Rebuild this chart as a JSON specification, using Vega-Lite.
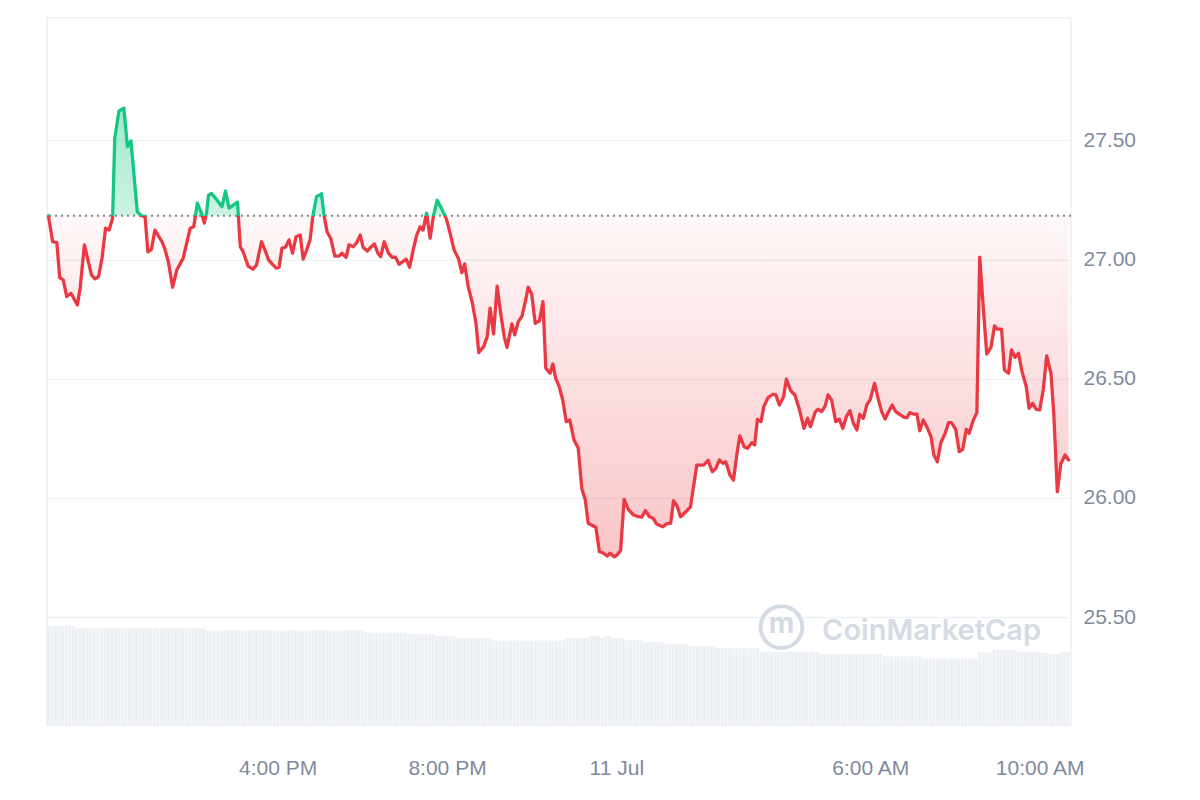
{
"$schema":"https://vega.github.io/schema/vega-lite/v6.json",
"width":1024,"height":707,
"autosize":{"type":"none"},
"padding":{"left":47,"top":18,"right":129,"bottom":75},
"background":"white",
"config":{"view":{"stroke":"#eceef1","strokeWidth":1.5},"font":"Liberation Sans"},
"datasets":{
"price":[
{"t":"2024-07-10T10:35","p":27.184},{"t":"2024-07-10T10:41","p":27.075},{"t":"2024-07-10T10:47","p":27.071},{"t":"2024-07-10T10:51","p":26.924},{"t":"2024-07-10T10:56","p":26.915},{"t":"2024-07-10T11:01","p":26.845},{"t":"2024-07-10T11:07","p":26.859},{"t":"2024-07-10T11:16","p":26.810},{"t":"2024-07-10T11:20","p":26.881},{"t":"2024-07-10T11:26","p":27.062},
{"t":"2024-07-10T11:36","p":26.936},{"t":"2024-07-10T11:41","p":26.919},{"t":"2024-07-10T11:46","p":26.928},{"t":"2024-07-10T11:51","p":27.006},{"t":"2024-07-10T11:56","p":27.132},{"t":"2024-07-10T12:01","p":27.124},{"t":"2024-07-10T12:06","p":27.174},{"t":"2024-07-10T12:09","p":27.509},{"t":"2024-07-10T12:15","p":27.624},{"t":"2024-07-10T12:22","p":27.635},
{"t":"2024-07-10T12:27","p":27.474},{"t":"2024-07-10T12:32","p":27.498},{"t":"2024-07-10T12:41","p":27.201},{"t":"2024-07-10T12:47","p":27.184},{"t":"2024-07-10T12:52","p":27.180},{"t":"2024-07-10T12:56","p":27.033},{"t":"2024-07-10T13:01","p":27.043},{"t":"2024-07-10T13:06","p":27.124},{"t":"2024-07-10T13:16","p":27.075},{"t":"2024-07-10T13:20","p":27.045},
{"t":"2024-07-10T13:25","p":26.991},{"t":"2024-07-10T13:31","p":26.884},{"t":"2024-07-10T13:37","p":26.957},{"t":"2024-07-10T13:46","p":27.006},{"t":"2024-07-10T13:56","p":27.132},{"t":"2024-07-10T14:01","p":27.138},{"t":"2024-07-10T14:06","p":27.237},{"t":"2024-07-10T14:12","p":27.195},{"t":"2024-07-10T14:16","p":27.153},{"t":"2024-07-10T14:19","p":27.195},
{"t":"2024-07-10T14:22","p":27.271},{"t":"2024-07-10T14:26","p":27.278},{"t":"2024-07-10T14:34","p":27.250},{"t":"2024-07-10T14:41","p":27.222},{"t":"2024-07-10T14:46","p":27.288},{"t":"2024-07-10T14:51","p":27.216},{"t":"2024-07-10T15:03","p":27.241},{"t":"2024-07-10T15:07","p":27.054},{"t":"2024-07-10T15:11","p":27.033},{"t":"2024-07-10T15:18","p":26.973},
{"t":"2024-07-10T15:25","p":26.960},{"t":"2024-07-10T15:30","p":26.978},{"t":"2024-07-10T15:37","p":27.075},{"t":"2024-07-10T15:42","p":27.040},{"t":"2024-07-10T15:47","p":26.999},{"t":"2024-07-10T15:52","p":26.982},{"t":"2024-07-10T15:58","p":26.964},{"t":"2024-07-10T16:02","p":26.968},{"t":"2024-07-10T16:06","p":27.048},{"t":"2024-07-10T16:11","p":27.052},
{"t":"2024-07-10T16:16","p":27.083},{"t":"2024-07-10T16:21","p":27.027},{"t":"2024-07-10T16:26","p":27.096},{"t":"2024-07-10T16:32","p":27.103},{"t":"2024-07-10T16:36","p":27.002},{"t":"2024-07-10T16:41","p":27.040},{"t":"2024-07-10T16:46","p":27.085},{"t":"2024-07-10T16:50","p":27.187},{"t":"2024-07-10T16:55","p":27.264},{"t":"2024-07-10T17:02","p":27.276},
{"t":"2024-07-10T17:06","p":27.180},{"t":"2024-07-10T17:10","p":27.117},{"t":"2024-07-10T17:15","p":27.090},{"t":"2024-07-10T17:21","p":27.015},{"t":"2024-07-10T17:27","p":27.015},{"t":"2024-07-10T17:31","p":27.027},{"t":"2024-07-10T17:37","p":27.010},{"t":"2024-07-10T17:41","p":27.062},{"t":"2024-07-10T17:47","p":27.054},{"t":"2024-07-10T17:52","p":27.071},
{"t":"2024-07-10T17:57","p":27.103},{"t":"2024-07-10T18:01","p":27.052},{"t":"2024-07-10T18:07","p":27.036},{"t":"2024-07-10T18:12","p":27.052},{"t":"2024-07-10T18:17","p":27.066},{"t":"2024-07-10T18:22","p":27.027},{"t":"2024-07-10T18:26","p":27.012},{"t":"2024-07-10T18:31","p":27.075},{"t":"2024-07-10T18:37","p":27.027},{"t":"2024-07-10T18:42","p":27.010},
{"t":"2024-07-10T18:47","p":27.010},{"t":"2024-07-10T18:52","p":26.980},{"t":"2024-07-10T18:57","p":26.991},{"t":"2024-07-10T19:02","p":27.002},{"t":"2024-07-10T19:07","p":26.968},{"t":"2024-07-10T19:12","p":27.040},{"t":"2024-07-10T19:17","p":27.103},{"t":"2024-07-10T19:22","p":27.138},{"t":"2024-07-10T19:26","p":27.124},{"t":"2024-07-10T19:31","p":27.195},
{"t":"2024-07-10T19:36","p":27.090},{"t":"2024-07-10T19:41","p":27.187},{"t":"2024-07-10T19:46","p":27.249},{"t":"2024-07-10T19:52","p":27.216},{"t":"2024-07-10T19:59","p":27.171},{"t":"2024-07-10T20:05","p":27.103},{"t":"2024-07-10T20:10","p":27.040},{"t":"2024-07-10T20:16","p":27.006},{"t":"2024-07-10T20:21","p":26.945},{"t":"2024-07-10T20:25","p":26.982},
{"t":"2024-07-10T20:30","p":26.887},{"t":"2024-07-10T20:36","p":26.817},{"t":"2024-07-10T20:41","p":26.733},{"t":"2024-07-10T20:45","p":26.610},{"t":"2024-07-10T20:52","p":26.635},{"t":"2024-07-10T20:57","p":26.677},{"t":"2024-07-10T21:01","p":26.796},{"t":"2024-07-10T21:06","p":26.688},{"t":"2024-07-10T21:11","p":26.889},{"t":"2024-07-10T21:16","p":26.775},
{"t":"2024-07-10T21:21","p":26.677},{"t":"2024-07-10T21:25","p":26.632},{"t":"2024-07-10T21:32","p":26.730},{"t":"2024-07-10T21:36","p":26.684},{"t":"2024-07-10T21:41","p":26.740},{"t":"2024-07-10T21:46","p":26.761},{"t":"2024-07-10T21:51","p":26.824},{"t":"2024-07-10T21:55","p":26.884},{"t":"2024-07-10T22:00","p":26.856},{"t":"2024-07-10T22:05","p":26.733},
{"t":"2024-07-10T22:11","p":26.743},{"t":"2024-07-10T22:16","p":26.824},{"t":"2024-07-10T22:20","p":26.544},{"t":"2024-07-10T22:26","p":26.523},{"t":"2024-07-10T22:30","p":26.562},{"t":"2024-07-10T22:34","p":26.502},{"t":"2024-07-10T22:39","p":26.467},{"t":"2024-07-10T22:44","p":26.411},{"t":"2024-07-10T22:49","p":26.320},{"t":"2024-07-10T22:54","p":26.327},
{"t":"2024-07-10T23:00","p":26.243},{"t":"2024-07-10T23:06","p":26.208},{"t":"2024-07-10T23:11","p":26.040},{"t":"2024-07-10T23:16","p":25.991},{"t":"2024-07-10T23:20","p":25.894},{"t":"2024-07-10T23:31","p":25.877},{"t":"2024-07-10T23:36","p":25.774},{"t":"2024-07-10T23:41","p":25.770},{"t":"2024-07-10T23:47","p":25.756},{"t":"2024-07-10T23:51","p":25.768},
{"t":"2024-07-10T23:57","p":25.753},{"t":"2024-07-11T00:01","p":25.761},{"t":"2024-07-11T00:06","p":25.779},{"t":"2024-07-11T00:11","p":25.994},{"t":"2024-07-11T00:17","p":25.952},{"t":"2024-07-11T00:24","p":25.929},{"t":"2024-07-11T00:31","p":25.921},{"t":"2024-07-11T00:36","p":25.919},{"t":"2024-07-11T00:41","p":25.947},{"t":"2024-07-11T00:47","p":25.921},
{"t":"2024-07-11T00:52","p":25.915},{"t":"2024-07-11T00:57","p":25.891},{"t":"2024-07-11T01:06","p":25.879},{"t":"2024-07-11T01:11","p":25.891},{"t":"2024-07-11T01:17","p":25.894},{"t":"2024-07-11T01:21","p":25.988},{"t":"2024-07-11T01:26","p":25.966},{"t":"2024-07-11T01:31","p":25.921},{"t":"2024-07-11T01:38","p":25.941},{"t":"2024-07-11T01:45","p":25.962},
{"t":"2024-07-11T01:54","p":26.138},{"t":"2024-07-11T02:04","p":26.138},{"t":"2024-07-11T02:10","p":26.158},{"t":"2024-07-11T02:16","p":26.110},{"t":"2024-07-11T02:21","p":26.124},{"t":"2024-07-11T02:26","p":26.159},{"t":"2024-07-11T02:31","p":26.145},{"t":"2024-07-11T02:35","p":26.152},{"t":"2024-07-11T02:41","p":26.096},{"t":"2024-07-11T02:46","p":26.075},
{"t":"2024-07-11T02:51","p":26.187},{"t":"2024-07-11T02:55","p":26.260},{"t":"2024-07-11T03:01","p":26.215},{"t":"2024-07-11T03:06","p":26.208},{"t":"2024-07-11T03:12","p":26.232},{"t":"2024-07-11T03:16","p":26.222},{"t":"2024-07-11T03:20","p":26.330},{"t":"2024-07-11T03:25","p":26.320},{"t":"2024-07-11T03:29","p":26.383},{"t":"2024-07-11T03:35","p":26.421},
{"t":"2024-07-11T03:42","p":26.435},{"t":"2024-07-11T03:46","p":26.432},{"t":"2024-07-11T03:51","p":26.390},{"t":"2024-07-11T03:57","p":26.425},{"t":"2024-07-11T04:01","p":26.498},{"t":"2024-07-11T04:07","p":26.450},{"t":"2024-07-11T04:13","p":26.432},{"t":"2024-07-11T04:19","p":26.376},{"t":"2024-07-11T04:26","p":26.292},{"t":"2024-07-11T04:31","p":26.334},
{"t":"2024-07-11T04:35","p":26.299},{"t":"2024-07-11T04:42","p":26.362},{"t":"2024-07-11T04:46","p":26.372},{"t":"2024-07-11T04:51","p":26.362},{"t":"2024-07-11T04:56","p":26.386},{"t":"2024-07-11T05:00","p":26.432},{"t":"2024-07-11T05:05","p":26.411},{"t":"2024-07-11T05:11","p":26.320},{"t":"2024-07-11T05:16","p":26.330},{"t":"2024-07-11T05:21","p":26.292},
{"t":"2024-07-11T05:26","p":26.341},{"t":"2024-07-11T05:31","p":26.366},{"t":"2024-07-11T05:36","p":26.313},{"t":"2024-07-11T05:41","p":26.285},{"t":"2024-07-11T05:45","p":26.351},{"t":"2024-07-11T05:50","p":26.334},{"t":"2024-07-11T05:55","p":26.390},{"t":"2024-07-11T06:00","p":26.414},{"t":"2024-07-11T06:06","p":26.481},{"t":"2024-07-11T06:11","p":26.418},
{"t":"2024-07-11T06:16","p":26.362},{"t":"2024-07-11T06:21","p":26.331},{"t":"2024-07-11T06:25","p":26.357},{"t":"2024-07-11T06:31","p":26.390},{"t":"2024-07-11T06:36","p":26.362},{"t":"2024-07-11T06:42","p":26.350},{"t":"2024-07-11T06:48","p":26.338},{"t":"2024-07-11T06:52","p":26.337},{"t":"2024-07-11T06:56","p":26.358},{"t":"2024-07-11T07:01","p":26.352},
{"t":"2024-07-11T07:06","p":26.352},{"t":"2024-07-11T07:10","p":26.282},{"t":"2024-07-11T07:15","p":26.327},{"t":"2024-07-11T07:21","p":26.292},{"t":"2024-07-11T07:26","p":26.257},{"t":"2024-07-11T07:30","p":26.180},{"t":"2024-07-11T07:35","p":26.152},{"t":"2024-07-11T07:40","p":26.232},{"t":"2024-07-11T07:46","p":26.271},{"t":"2024-07-11T07:51","p":26.316},
{"t":"2024-07-11T07:55","p":26.316},{"t":"2024-07-11T08:01","p":26.288},{"t":"2024-07-11T08:06","p":26.194},{"t":"2024-07-11T08:11","p":26.204},{"t":"2024-07-11T08:16","p":26.288},{"t":"2024-07-11T08:20","p":26.271},{"t":"2024-07-11T08:26","p":26.327},{"t":"2024-07-11T08:31","p":26.358},{"t":"2024-07-11T08:35","p":27.010},{"t":"2024-07-11T08:40","p":26.803},
{"t":"2024-07-11T08:45","p":26.604},{"t":"2024-07-11T08:51","p":26.632},{"t":"2024-07-11T08:56","p":26.722},{"t":"2024-07-11T09:00","p":26.708},{"t":"2024-07-11T09:06","p":26.708},{"t":"2024-07-11T09:10","p":26.537},{"t":"2024-07-11T09:16","p":26.523},{"t":"2024-07-11T09:20","p":26.621},{"t":"2024-07-11T09:25","p":26.590},{"t":"2024-07-11T09:30","p":26.607},
{"t":"2024-07-11T09:35","p":26.530},{"t":"2024-07-11T09:41","p":26.467},{"t":"2024-07-11T09:45","p":26.376},{"t":"2024-07-11T09:50","p":26.397},{"t":"2024-07-11T09:55","p":26.372},{"t":"2024-07-11T10:00","p":26.369},{"t":"2024-07-11T10:05","p":26.453},{"t":"2024-07-11T10:10","p":26.596},{"t":"2024-07-11T10:16","p":26.523},{"t":"2024-07-11T10:20","p":26.355},
{"t":"2024-07-11T10:25","p":26.026},{"t":"2024-07-11T10:30","p":26.143},{"t":"2024-07-11T10:36","p":26.180},{"t":"2024-07-11T10:41","p":26.159}
],
"vol":[
{"t":"2024-07-10T10:35","v":99},{"t":"2024-07-10T10:40","v":99},{"t":"2024-07-10T10:45","v":99},{"t":"2024-07-10T10:50","v":99},{"t":"2024-07-10T10:55","v":99},{"t":"2024-07-10T11:00","v":99},{"t":"2024-07-10T11:05","v":99},{"t":"2024-07-10T11:10","v":99},
{"t":"2024-07-10T11:15","v":96.7},{"t":"2024-07-10T11:20","v":96.7},{"t":"2024-07-10T11:25","v":96.7},{"t":"2024-07-10T11:30","v":96.7},{"t":"2024-07-10T11:35","v":96.7},{"t":"2024-07-10T11:40","v":96.7},{"t":"2024-07-10T11:45","v":96.7},{"t":"2024-07-10T11:50","v":96.7},{"t":"2024-07-10T11:55","v":96.7},{"t":"2024-07-10T12:00","v":96.7},{"t":"2024-07-10T12:05","v":96.7},{"t":"2024-07-10T12:10","v":96.7},{"t":"2024-07-10T12:15","v":96.7},{"t":"2024-07-10T12:20","v":96.7},{"t":"2024-07-10T12:25","v":96.7},{"t":"2024-07-10T12:30","v":96.7},{"t":"2024-07-10T12:35","v":96.7},{"t":"2024-07-10T12:40","v":96.7},{"t":"2024-07-10T12:45","v":96.7},{"t":"2024-07-10T12:50","v":96.7},{"t":"2024-07-10T12:55","v":96.7},{"t":"2024-07-10T13:00","v":96.7},{"t":"2024-07-10T13:05","v":96.7},{"t":"2024-07-10T13:10","v":96.7},{"t":"2024-07-10T13:15","v":96.7},{"t":"2024-07-10T13:20","v":96.7},{"t":"2024-07-10T13:25","v":96.7},{"t":"2024-07-10T13:30","v":96.7},{"t":"2024-07-10T13:35","v":96.7},{"t":"2024-07-10T13:40","v":96.7},{"t":"2024-07-10T13:45","v":96.7},{"t":"2024-07-10T13:50","v":96.7},{"t":"2024-07-10T13:55","v":96.7},{"t":"2024-07-10T14:00","v":96.7},{"t":"2024-07-10T14:05","v":96.7},{"t":"2024-07-10T14:10","v":96.7},{"t":"2024-07-10T14:15","v":96.7},
{"t":"2024-07-10T14:20","v":94.4},{"t":"2024-07-10T14:25","v":94.4},{"t":"2024-07-10T14:30","v":94.4},{"t":"2024-07-10T14:35","v":94.4},{"t":"2024-07-10T14:40","v":94.4},{"t":"2024-07-10T14:45","v":94.4},{"t":"2024-07-10T14:50","v":94.4},{"t":"2024-07-10T14:55","v":94.4},{"t":"2024-07-10T15:00","v":94.4},{"t":"2024-07-10T15:05","v":94.4},{"t":"2024-07-10T15:10","v":94.4},{"t":"2024-07-10T15:15","v":94.4},{"t":"2024-07-10T15:20","v":94.4},{"t":"2024-07-10T15:25","v":94.4},{"t":"2024-07-10T15:30","v":94.4},{"t":"2024-07-10T15:35","v":94.4},{"t":"2024-07-10T15:40","v":94.4},{"t":"2024-07-10T15:45","v":94.4},{"t":"2024-07-10T15:50","v":94.4},{"t":"2024-07-10T15:55","v":94.4},{"t":"2024-07-10T16:00","v":94.4},{"t":"2024-07-10T16:05","v":94.4},{"t":"2024-07-10T16:10","v":94.4},{"t":"2024-07-10T16:15","v":94.4},{"t":"2024-07-10T16:20","v":94.4},{"t":"2024-07-10T16:25","v":94.4},{"t":"2024-07-10T16:30","v":94.4},{"t":"2024-07-10T16:35","v":94.4},{"t":"2024-07-10T16:40","v":94.4},{"t":"2024-07-10T16:45","v":94.4},{"t":"2024-07-10T16:50","v":94.4},{"t":"2024-07-10T16:55","v":94.4},{"t":"2024-07-10T17:00","v":94.4},{"t":"2024-07-10T17:05","v":94.4},{"t":"2024-07-10T17:10","v":94.4},{"t":"2024-07-10T17:15","v":94.4},{"t":"2024-07-10T17:20","v":94.4},{"t":"2024-07-10T17:25","v":94.4},{"t":"2024-07-10T17:30","v":94.4},{"t":"2024-07-10T17:35","v":94.4},{"t":"2024-07-10T17:40","v":94.4},{"t":"2024-07-10T17:45","v":94.4},{"t":"2024-07-10T17:50","v":94.4},{"t":"2024-07-10T17:55","v":94.4},{"t":"2024-07-10T18:00","v":94.4},
{"t":"2024-07-10T18:05","v":92.4},{"t":"2024-07-10T18:10","v":92.4},{"t":"2024-07-10T18:15","v":92.4},{"t":"2024-07-10T18:20","v":92.4},{"t":"2024-07-10T18:25","v":92.4},{"t":"2024-07-10T18:30","v":92.4},{"t":"2024-07-10T18:35","v":92.4},{"t":"2024-07-10T18:40","v":92.4},{"t":"2024-07-10T18:45","v":92.4},{"t":"2024-07-10T18:50","v":92.4},{"t":"2024-07-10T18:55","v":92.4},{"t":"2024-07-10T19:00","v":92.4},
{"t":"2024-07-10T19:05","v":90.8},{"t":"2024-07-10T19:10","v":90.8},{"t":"2024-07-10T19:15","v":90.8},{"t":"2024-07-10T19:20","v":90.8},{"t":"2024-07-10T19:25","v":90.8},{"t":"2024-07-10T19:30","v":90.8},{"t":"2024-07-10T19:35","v":90.8},{"t":"2024-07-10T19:40","v":90.8},
{"t":"2024-07-10T19:45","v":89.1},{"t":"2024-07-10T19:50","v":89.1},{"t":"2024-07-10T19:55","v":89.1},{"t":"2024-07-10T20:00","v":89.1},{"t":"2024-07-10T20:05","v":89.1},{"t":"2024-07-10T20:10","v":89.1},
{"t":"2024-07-10T20:15","v":86.8},{"t":"2024-07-10T20:20","v":86.8},{"t":"2024-07-10T20:25","v":86.8},{"t":"2024-07-10T20:30","v":86.8},{"t":"2024-07-10T20:35","v":86.8},{"t":"2024-07-10T20:40","v":86.8},{"t":"2024-07-10T20:45","v":86.8},{"t":"2024-07-10T20:50","v":86.8},{"t":"2024-07-10T20:55","v":86.8},{"t":"2024-07-10T21:00","v":86.8},
{"t":"2024-07-10T21:05","v":84.5},{"t":"2024-07-10T21:10","v":84.5},{"t":"2024-07-10T21:15","v":84.5},{"t":"2024-07-10T21:20","v":84.5},{"t":"2024-07-10T21:25","v":84.5},{"t":"2024-07-10T21:30","v":84.5},{"t":"2024-07-10T21:35","v":84.5},{"t":"2024-07-10T21:40","v":84.5},{"t":"2024-07-10T21:45","v":84.5},{"t":"2024-07-10T21:50","v":84.5},{"t":"2024-07-10T21:55","v":84.5},{"t":"2024-07-10T22:00","v":84.5},{"t":"2024-07-10T22:05","v":84.5},{"t":"2024-07-10T22:10","v":84.5},{"t":"2024-07-10T22:15","v":84.5},{"t":"2024-07-10T22:20","v":84.5},{"t":"2024-07-10T22:25","v":84.5},{"t":"2024-07-10T22:30","v":84.5},{"t":"2024-07-10T22:35","v":84.5},{"t":"2024-07-10T22:40","v":84.5},{"t":"2024-07-10T22:45","v":84.5},
{"t":"2024-07-10T22:50","v":86.8},{"t":"2024-07-10T22:55","v":86.8},{"t":"2024-07-10T23:00","v":86.8},{"t":"2024-07-10T23:05","v":86.8},{"t":"2024-07-10T23:10","v":86.8},{"t":"2024-07-10T23:15","v":86.8},{"t":"2024-07-10T23:20","v":86.8},
{"t":"2024-07-10T23:25","v":89.1},{"t":"2024-07-10T23:30","v":89.1},{"t":"2024-07-10T23:35","v":89.1},{"t":"2024-07-10T23:40","v":86.8},{"t":"2024-07-10T23:45","v":89},{"t":"2024-07-10T23:50","v":89},{"t":"2024-07-10T23:55","v":86.8},
{"t":"2024-07-11T00:00","v":86.8},{"t":"2024-07-11T00:05","v":86.8},{"t":"2024-07-11T00:10","v":86.8},
{"t":"2024-07-11T00:15","v":84.8},{"t":"2024-07-11T00:20","v":84.8},{"t":"2024-07-11T00:25","v":84.8},{"t":"2024-07-11T00:30","v":84.8},{"t":"2024-07-11T00:35","v":84.8},
{"t":"2024-07-11T00:40","v":82.8},{"t":"2024-07-11T00:45","v":82.8},{"t":"2024-07-11T00:50","v":82.8},{"t":"2024-07-11T00:55","v":82.8},{"t":"2024-07-11T01:00","v":82.8},{"t":"2024-07-11T01:05","v":82.8},
{"t":"2024-07-11T01:10","v":80.8},{"t":"2024-07-11T01:15","v":80.8},{"t":"2024-07-11T01:20","v":80.8},{"t":"2024-07-11T01:25","v":80.8},{"t":"2024-07-11T01:30","v":80.8},{"t":"2024-07-11T01:35","v":80.8},{"t":"2024-07-11T01:40","v":80.8},
{"t":"2024-07-11T01:45","v":78.8},{"t":"2024-07-11T01:50","v":78.8},{"t":"2024-07-11T01:55","v":78.8},{"t":"2024-07-11T02:00","v":78.8},{"t":"2024-07-11T02:05","v":78.8},{"t":"2024-07-11T02:10","v":78.8},{"t":"2024-07-11T02:15","v":78.8},{"t":"2024-07-11T02:20","v":78.8},
{"t":"2024-07-11T02:25","v":76.8},{"t":"2024-07-11T02:30","v":76.8},{"t":"2024-07-11T02:35","v":76.8},{"t":"2024-07-11T02:40","v":76.8},{"t":"2024-07-11T02:45","v":76.8},{"t":"2024-07-11T02:50","v":76.8},{"t":"2024-07-11T02:55","v":76.8},{"t":"2024-07-11T03:00","v":76.8},{"t":"2024-07-11T03:05","v":76.8},{"t":"2024-07-11T03:10","v":76.8},{"t":"2024-07-11T03:15","v":76.8},{"t":"2024-07-11T03:20","v":76.8},
{"t":"2024-07-11T03:25","v":73.2},{"t":"2024-07-11T03:30","v":73.2},{"t":"2024-07-11T03:35","v":73.2},{"t":"2024-07-11T03:40","v":73.2},{"t":"2024-07-11T03:45","v":73.2},{"t":"2024-07-11T03:50","v":73.2},{"t":"2024-07-11T03:55","v":73.2},{"t":"2024-07-11T04:00","v":73.2},{"t":"2024-07-11T04:05","v":73.2},{"t":"2024-07-11T04:10","v":73.2},{"t":"2024-07-11T04:15","v":73.2},{"t":"2024-07-11T04:20","v":73.2},{"t":"2024-07-11T04:25","v":73.2},{"t":"2024-07-11T04:30","v":73.2},{"t":"2024-07-11T04:35","v":73.2},{"t":"2024-07-11T04:40","v":73.2},{"t":"2024-07-11T04:45","v":73.2},
{"t":"2024-07-11T04:50","v":70.9},{"t":"2024-07-11T04:55","v":70.9},{"t":"2024-07-11T05:00","v":70.9},{"t":"2024-07-11T05:05","v":70.9},{"t":"2024-07-11T05:10","v":70.9},{"t":"2024-07-11T05:15","v":70.9},{"t":"2024-07-11T05:20","v":70.9},{"t":"2024-07-11T05:25","v":70.9},{"t":"2024-07-11T05:30","v":70.9},{"t":"2024-07-11T05:35","v":70.9},{"t":"2024-07-11T05:40","v":70.9},{"t":"2024-07-11T05:45","v":70.9},{"t":"2024-07-11T05:50","v":70.9},{"t":"2024-07-11T05:55","v":70.9},{"t":"2024-07-11T06:00","v":70.9},{"t":"2024-07-11T06:05","v":70.9},{"t":"2024-07-11T06:10","v":70.9},{"t":"2024-07-11T06:15","v":70.9},
{"t":"2024-07-11T06:20","v":68.6},{"t":"2024-07-11T06:25","v":68.6},{"t":"2024-07-11T06:30","v":68.6},{"t":"2024-07-11T06:35","v":68.6},{"t":"2024-07-11T06:40","v":68.6},{"t":"2024-07-11T06:45","v":68.6},{"t":"2024-07-11T06:50","v":68.6},{"t":"2024-07-11T06:55","v":68.6},{"t":"2024-07-11T07:00","v":68.6},{"t":"2024-07-11T07:05","v":68.6},{"t":"2024-07-11T07:10","v":68.6},
{"t":"2024-07-11T07:15","v":66.6},{"t":"2024-07-11T07:20","v":66.6},{"t":"2024-07-11T07:25","v":66.6},{"t":"2024-07-11T07:30","v":66.6},{"t":"2024-07-11T07:35","v":66.6},{"t":"2024-07-11T07:40","v":66.6},{"t":"2024-07-11T07:45","v":66.6},{"t":"2024-07-11T07:50","v":66.6},{"t":"2024-07-11T07:55","v":66.6},{"t":"2024-07-11T08:00","v":66.6},{"t":"2024-07-11T08:05","v":66.6},{"t":"2024-07-11T08:10","v":66.6},{"t":"2024-07-11T08:15","v":66.6},{"t":"2024-07-11T08:20","v":66.6},{"t":"2024-07-11T08:25","v":66.6},{"t":"2024-07-11T08:30","v":66.6},
{"t":"2024-07-11T08:35","v":72.5},{"t":"2024-07-11T08:40","v":72.5},{"t":"2024-07-11T08:45","v":72.5},{"t":"2024-07-11T08:50","v":72.5},
{"t":"2024-07-11T08:55","v":74.9},{"t":"2024-07-11T09:00","v":74.9},{"t":"2024-07-11T09:05","v":74.9},{"t":"2024-07-11T09:10","v":74.9},{"t":"2024-07-11T09:15","v":74.9},{"t":"2024-07-11T09:20","v":74.9},{"t":"2024-07-11T09:25","v":74.9},
{"t":"2024-07-11T09:30","v":73.2},{"t":"2024-07-11T09:35","v":73.2},{"t":"2024-07-11T09:40","v":73.2},{"t":"2024-07-11T09:45","v":73.2},{"t":"2024-07-11T09:50","v":73.2},{"t":"2024-07-11T09:55","v":73.2},{"t":"2024-07-11T10:00","v":73.2},
{"t":"2024-07-11T10:05","v":72},{"t":"2024-07-11T10:10","v":72},{"t":"2024-07-11T10:15","v":71},{"t":"2024-07-11T10:20","v":71},{"t":"2024-07-11T10:25","v":71},{"t":"2024-07-11T10:30","v":73.2},{"t":"2024-07-11T10:35","v":73.2},{"t":"2024-07-11T10:40","v":73.2}
]
},
"layer":[
{
"data":{"name":"vol"},
"mark":{"type":"bar","width":3,"color":"#eceff3"},
"encoding":{
"x":{"field":"t","type":"temporal",
"scale":{"padding":0,"domain":[{"year":2024,"month":7,"date":10,"hours":10,"minutes":33},{"year":2024,"month":7,"date":11,"hours":10,"minutes":44,"seconds":24}]},
"axis":{"values":[{"year":2024,"month":7,"date":10,"hours":16},{"year":2024,"month":7,"date":10,"hours":20},{"year":2024,"month":7,"date":11,"hours":0},{"year":2024,"month":7,"date":11,"hours":6},{"year":2024,"month":7,"date":11,"hours":10}],
"labelExpr":"hours(datum.value) == 0 ? timeFormat(datum.value, '%-d %b') : timeFormat(datum.value, '%-I:%M %p')",
"grid":false,"ticks":false,"domain":false,"title":null,"labelFlush":false,"labelOverlap":false,
"labelFontSize":21,"labelColor":"#808a9d","labelPadding":32,"labelFont":"Liberation Sans"}},
"y":{"field":"v","type":"quantitative","scale":{"domain":[0,707],"nice":false},"axis":null}
}
},
{
"data":{"name":"price"},
"encoding":{
"y":{"field":"p","type":"quantitative","scale":{"domain":[25.047,28.014],"nice":false,"zero":false},
"axis":{"orient":"right","values":[25.5,26,26.5,27,27.5],"format":".2f","grid":true,"gridColor":"#eff1f4","gridWidth":1.5,"ticks":false,"domain":false,"title":null,"labelFontSize":21,"labelColor":"#808a9d","labelPadding":12,"labelFont":"Liberation Sans"}}
},
"layer":[
{
"mark":{"type":"area","fill":{"gradient":"linear","x1":0,"y1":0,"x2":0,"y2":1,"stops":[{"offset":0,"color":"rgba(22,199,132,0.4)"},{"offset":0.2397,"color":"rgba(22,199,132,0.22)"},{"offset":0.2397,"color":"rgba(234,57,67,0.035)"},{"offset":1,"color":"rgba(234,57,67,0.29)"}]}},
"encoding":{"x":{"field":"t","type":"temporal"},"y2":{"datum":27.184}}
},
{
"transform":[{"aggregate":[{"op":"argmin","field":"t","as":"first"}]}],
"mark":{"type":"rule","color":"#7d8490","strokeWidth":2,"strokeDash":[2,4]},
"encoding":{"y":{"field":"first.p","type":"quantitative"}}
},
{
"mark":{"type":"line","strokeWidth":3.3,"strokeJoin":"round","strokeCap":"round","stroke":{"gradient":"linear","x1":0,"y1":0,"x2":0,"y2":1,"stops":[{"offset":0,"color":"#16c784"},{"offset":0.2397,"color":"#16c784"},{"offset":0.2397,"color":"#ea3943"},{"offset":1,"color":"#ea3943"}]}},
"encoding":{"x":{"field":"t","type":"temporal"}}
}
]
},
{
"data":{"values":[{}]},
"mark":{"type":"point","shape":"circle","filled":false,"size":1750,"stroke":"#d5dbe5","strokeWidth":4,"opacity":1},
"encoding":{"x":{"datum":{"year":2024,"month":7,"date":11,"hours":3,"minutes":54},"type":"temporal"},"y":{"datum":25.458,"type":"quantitative","scale":{"domain":[25.047,28.014],"nice":false,"zero":false},"axis":null}}
},
{
"data":{"values":[{}]},
"mark":{"type":"text","text":"m","font":"Inter","fontWeight":700,"fontSize":28,"color":"#d5dbe5","align":"center","baseline":"middle","dy":-2},
"encoding":{"x":{"datum":{"year":2024,"month":7,"date":11,"hours":3,"minutes":54},"type":"temporal"},"y":{"datum":25.458,"type":"quantitative","scale":{"domain":[25.047,28.014],"nice":false,"zero":false},"axis":null}}
},
{
"data":{"values":[{}]},
"mark":{"type":"text","text":"CoinMarketCap","font":"Inter","fontWeight":600,"fontSize":29,"color":"#d5dbe5","align":"left","baseline":"middle"},
"encoding":{"x":{"datum":{"year":2024,"month":7,"date":11,"hours":4,"minutes":51,"seconds":30},"type":"temporal"},"y":{"datum":25.44,"type":"quantitative","scale":{"domain":[25.047,28.014],"nice":false,"zero":false},"axis":null}}
}
],
"resolve":{"scale":{"y":"independent"}}
}
